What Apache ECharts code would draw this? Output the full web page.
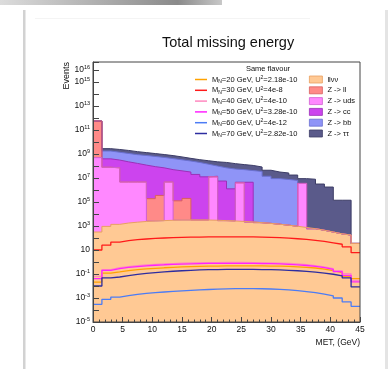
<!DOCTYPE html>
<html>
<head>
<meta charset="utf-8">
<script src="https://cdn.jsdelivr.net/npm/echarts@6/dist/echarts.min.js"></script>
<style>
  html, body { margin: 0; padding: 0; background: #fff; }
  #main { width: 391px; height: 369px; }
</style>
</head>
<body>
<div id="main"></div>
<script>
// bin edges of the MET histogram (GeV), 30 bins of 1.5 GeV
var binEdges = [0, 1.5, 3, 4.5, 6, 7.5, 9, 10.5, 12, 13.5, 15, 16.5, 18, 19.5, 21, 22.5,
  24, 25.5, 27, 28.5, 30, 31.5, 33, 34.5, 36, 37.5, 39, 40.5, 42, 43.5, 45];

// background stack, read as log10 of the top of each stacked layer (bottom -> top)
var topLlvv = [2.5, 2.97, 3.14, 3.25, 3.32, 3.38, 3.42, 3.45, 3.48, 3.5, 3.5, 3.5, 3.5, 3.48, 3.45,
  3.42, 3.38, 3.33, 3.28, 3.22, 3.15, 3.07, 2.98, 2.88, 2.78, 2.65, 2.5, 2.35, 2.25, 1.55];
var topUds = [8.7, 7.9, 7.85, 6.67, 6.67, 6.67, 3.42, 3.45, 6.67, 3.5, 3.5, 3.5, 3.5, 7.1, 3.45,
  3.42, 6.6, 3.33, 3.28, 3.22, 3.15, 3.07, 2.98, 6.55, 2.78, 2.65, 2.5, 2.35, 2.25, 1.55];
var topLl = [11.75, 7.9, 7.85, 6.67, 6.67, 6.67, 5.28, 5.55, 6.67, 5.1, 5.3, 3.5, 3.5, 7.1, 3.45,
  3.42, 6.6, 3.33, 3.28, 3.22, 3.15, 3.07, 2.98, 6.55, 2.78, 2.65, 2.5, 2.35, 2.25, 1.55];
var topCc = [11.75, 8.6, 8.5, 8.35, 8.22, 8.08, 7.95, 7.85, 7.7, 7.6, 7.5, 7.3, 7.1, 7.15, 6.75,
  6.1, 6.65, 6.65, 3.28, 3.22, 3.15, 3.07, 2.98, 6.55, 2.78, 2.65, 2.5, 2.35, 2.25, 1.55];
var topBb = [11.75, 9.25, 9.15, 9.05, 8.95, 8.88, 8.8, 8.72, 8.62, 8.52, 8.42, 8.3, 8.15, 8.0, 7.85,
  7.75, 7.7, 7.62, 7.55, 7.15, 6.95, 6.88, 6.8, 6.55, 2.78, 2.65, 2.5, 2.35, 2.25, 1.55];
var topTautau = [11.75, 9.45, 9.38, 9.3, 9.2, 9.12, 9.04, 8.96, 8.87, 8.76, 8.64, 8.53, 8.44, 8.35, 8.3,
  8.2, 8.12, 8.05, 7.92, 7.65, 7.5, 7.42, 7.25, 6.95, 6.9, 6.5, 6.25, 5.15, 5.15, 1.55];

// signal samples, log10 of events per bin
var sigM20 = [-1.67, -0.92, -0.83, -0.72, -0.64, -0.58, -0.53, -0.48, -0.44, -0.41, -0.38, -0.36, -0.35, -0.34, -0.33,
  -0.33, -0.33, -0.33, -0.33, -0.34, -0.35, -0.37, -0.4, -0.45, -0.5, -0.6, -0.72, -0.88, -1.2, -1.38];
var sigM30 = [1.0, 1.4, 1.65, 1.78, 1.86, 1.92, 1.97, 2.0, 2.03, 2.05, 2.07, 2.08, 2.09, 2.1, 2.1,
  2.1, 2.1, 2.09, 2.08, 2.06, 2.03, 1.99, 1.94, 1.88, 1.81, 1.72, 1.6, 1.48, 1.27, 0.78];
var sigM40 = [-1.19, -0.63, -0.47, -0.38, -0.3, -0.25, -0.2, -0.16, -0.13, -0.1, -0.08, -0.06, -0.05, -0.05, -0.04,
  -0.04, -0.04, -0.05, -0.06, -0.07, -0.09, -0.12, -0.16, -0.22, -0.3, -0.4, -0.55, -0.72, -0.97, -1.53];
var sigM50 = [-1.38, -0.69, -0.55, -0.45, -0.38, -0.32, -0.27, -0.23, -0.2, -0.17, -0.15, -0.13, -0.12, -0.12, -0.11,
  -0.11, -0.11, -0.12, -0.13, -0.14, -0.16, -0.19, -0.23, -0.29, -0.37, -0.47, -0.62, -0.8, -1.11, -1.65];
var sigM60 = [-3.53, -3.11, -2.92, -2.8, -2.7, -2.62, -2.55, -2.5, -2.45, -2.4, -2.36, -2.32, -2.29, -2.26, -2.24,
  -2.22, -2.22, -2.22, -2.23, -2.25, -2.28, -2.32, -2.38, -2.46, -2.56, -2.68, -2.82, -3.0, -3.33, -3.69];
var sigM70 = [-2.0, -1.33, -1.25, -1.13, -1.03, -0.95, -0.88, -0.82, -0.77, -0.73, -0.69, -0.66, -0.64, -0.63, -0.62,
  -0.62, -0.62, -0.62, -0.63, -0.64, -0.66, -0.69, -0.73, -0.78, -0.85, -0.93, -1.02, -1.15, -1.33, -2.08];

var sigMasses = [20, 30, 40, 50, 60, 70];
var sigCouplings = ['2.18e-10', '4e-8', '4e-10', '3.28e-10', '4e-12', '2.82e-10'];
var sigColors = ['#ffa200', '#ff1a1a', '#ff88c0', '#ff22ff', '#4c7cf5', '#2d2da0'];

var bkgNames = ['llνν', 'Z -> ll', 'Z -> uds', 'Z -> cc', 'Z -> bb', 'Z -> ττ'];
var bkgFill = ['#ffc994', '#ff8a88', '#ff88ff', '#cc44ee', '#8f94f7', '#5a5a8a'];
var bkgLine = ['#e8a060', '#d96060', '#d060d0', '#9c30b8', '#6a70d0', '#3c3c66'];

var FONT = '"Liberation Sans", Arial, sans-serif';

function toSteps(logVals) {
  // one point per lower bin edge, last point closes the final bin
  return binEdges.map(function (x, i) {
    return [x, Math.pow(10, logVals[Math.min(i, logVals.length - 1)])];
  });
}

var series = [];
// draw the stack from the top layer down, so lower layers sit over the upper ones
var stackTops = [topLlvv, topLl, topUds, topCc, topBb, topTautau];
var drawOrder = [5, 4, 3, 1, 2, 0];
drawOrder.forEach(function (k) {
  series.push({
    name: bkgNames[k],
    type: 'line',
    step: 'end',
    symbol: 'none',
    color: bkgFill[k],
    lineStyle: { color: bkgLine[k], width: 1 },
    areaStyle: { color: bkgFill[k], opacity: 1, origin: 'start' },
    data: toSteps(stackTops[k])
  });
});

var sigData = [sigM20, sigM30, sigM40, sigM50, sigM60, sigM70];
var sigNames = sigMasses.map(function (m) { return 'M' + m; });
sigData.forEach(function (d, i) {
  series.push({
    name: sigNames[i],
    type: 'line',
    step: 'end',
    symbol: 'none',
    color: sigColors[i],
    lineStyle: { color: sigColors[i], width: 1.3 },
    data: toSteps(d)
  });
});

var chart = echarts.init(document.getElementById('main'));
chart.setOption({
  animation: false,
  backgroundColor: '#fff',
  title: {
    text: 'Total missing energy',
    left: 157, top: 30,
    textStyle: { fontFamily: FONT, fontSize: 14.5, fontWeight: 'normal', color: '#111' }
  },
  grid: {
    left: 93, right: 31, top: 62, bottom: 47,
    show: true, z: 10, backgroundColor: 'transparent', borderColor: '#444', borderWidth: 1
  },
  legend: [{
    data: sigNames.map(function (n, i) {
      return { name: n, icon: 'rect', itemStyle: { color: sigColors[i] } };
    }),
    orient: 'vertical', left: 195, top: 75, padding: 0,
    itemWidth: 12, itemHeight: 1.5, itemGap: 1.8,
    selectedMode: false,
    formatter: function (name) {
      var i = sigNames.indexOf(name);
      return 'M{sub|N}=' + sigMasses[i] + ' GeV, U{sup|2}=' + sigCouplings[i];
    },
    textStyle: {
      fontFamily: FONT, fontSize: 7.5, color: '#111', lineHeight: 9,
      rich: {
        sub: { fontFamily: FONT, fontSize: 5, verticalAlign: 'bottom', padding: [3, 0, 0, 0] },
        sup: { fontFamily: FONT, fontSize: 5, padding: [0, 0, 4, 0] }
      }
    }
  }, {
    data: [0, 1, 2, 3, 4, 5].map(function (k) {
      return { name: bkgNames[k], icon: 'rect', itemStyle: { color: bkgFill[k], borderColor: bkgLine[k], borderWidth: 0.8 } };
    }),
    orient: 'vertical', left: 309, top: 75, padding: 0,
    itemWidth: 13, itemHeight: 7, itemGap: 1.8,
    selectedMode: false,
    textStyle: { fontFamily: FONT, fontSize: 7.5, color: '#111', lineHeight: 9 }
  }],
  xAxis: {
    type: 'value', min: 0, max: 45, interval: 5, z: 10,
    axisLine: { show: true, lineStyle: { color: '#444', width: 1 } },
    axisTick: { inside: true, length: 5, lineStyle: { color: '#444' } },
    minorTick: { show: true, splitNumber: 5, length: 2.5, lineStyle: { color: '#444' } },
    splitLine: { show: false },
    axisLabel: { fontFamily: FONT, fontSize: 8.5, color: '#111', margin: 3 },
    name: 'MET, (GeV)', nameLocation: 'end', nameGap: 0,
    nameTextStyle: { fontFamily: FONT, fontSize: 8.5, color: '#111', align: 'right', verticalAlign: 'top', padding: [16, 0, 0, 0] }
  },
  yAxis: {
    type: 'log', logBase: 10, min: 1e-5, max: 4.7e16, interval: 1, z: 10,
    axisLine: { show: true, lineStyle: { color: '#444', width: 1 } },
    axisTick: { inside: true, length: 6, lineStyle: { color: '#444' } },
    splitLine: { show: false },
    axisLabel: {
      margin: 3,
      formatter: function (v) {
        var l = Math.log10(v), e = Math.round(l);
        if (Math.abs(l - e) > 1e-6) return '';
        if (e % 2 === 0 && e !== 16) return '';
        if (e === 1) return '{b|10}';
        return '{b|10}{s|' + e + '}';
      },
      rich: {
        b: { fontFamily: FONT, fontSize: 8.5, color: '#111' },
        s: { fontFamily: FONT, fontSize: 5.5, color: '#111', padding: [0, 0, 5, 0] }
      }
    }
  },
  graphic: [
    { type: 'rect', shape: { x: 0, y: 0, width: 222, height: 5 }, silent: true,
      style: { fill: new echarts.graphic.LinearGradient(0, 0, 1, 0, [
        { offset: 0, color: '#dcdcdc' }, { offset: 0.8, color: '#8a8a8a' }, { offset: 1, color: '#c8c8c8' }]) } },
    { type: 'rect', shape: { x: 23, y: 10, width: 2.5, height: 359 }, silent: true, style: { fill: '#d2d2d2' } },
    { type: 'rect', shape: { x: 385, y: 10, width: 3, height: 359 }, silent: true, style: { fill: '#e4e4e4' } },
    { type: 'rect', shape: { x: 35, y: 18, width: 275, height: 0.8 }, silent: true, style: { fill: '#f0f0f0' } },
    { type: 'text', x: 268, y: 69, silent: true,
      style: { text: 'Same flavour', font: '7.5px ' + FONT, fill: '#111', align: 'center', verticalAlign: 'middle' } },
    { type: 'text', x: 66.5, y: 62, rotation: Math.PI / 2, silent: true,
      style: { text: 'Events', font: '9px ' + FONT, fill: '#111', align: 'right', verticalAlign: 'middle' } }
  ],
  series: series
});
</script>
</body>
</html>
